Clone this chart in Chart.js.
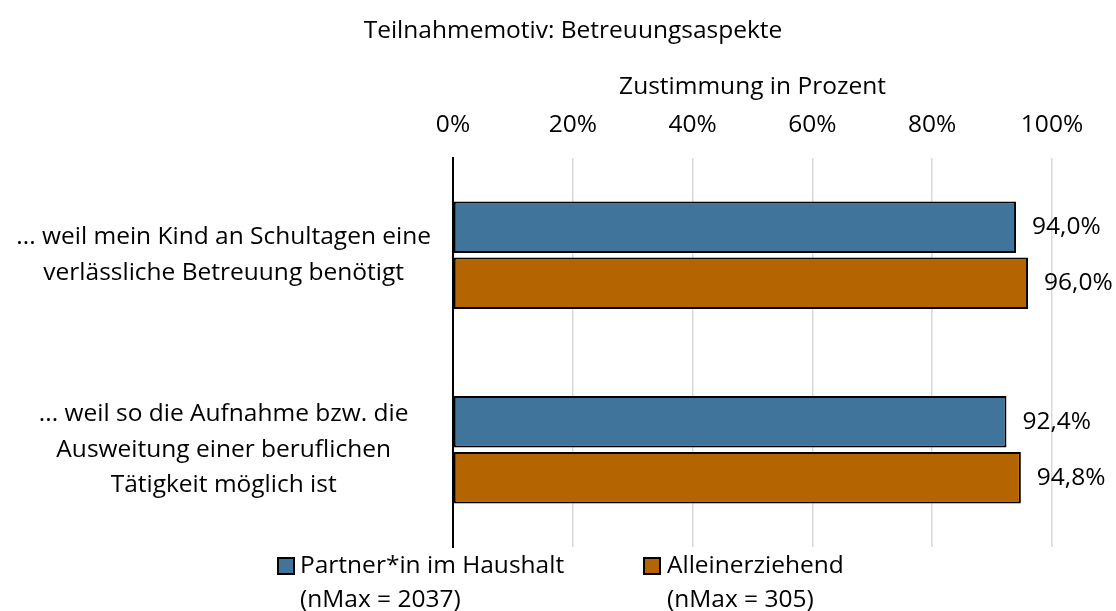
<!DOCTYPE html>
<html>
<head>
<meta charset="utf-8">
<script src="https://cdn.jsdelivr.net/npm/chart.js@4"></script>
<style>
  body { margin: 0; background: #fff; }
  canvas { display: block; }
</style>
</head>
<body>
<canvas id="chartMotiv" width="1116" height="611"></canvas>
<script>
const categories = [
    ['... weil mein Kind an Schultagen eine', 'verlässliche Betreuung benötigt'],
    ['... weil so die Aufnahme bzw. die', 'Ausweitung einer beruflichen', 'Tätigkeit möglich ist']
];
const partnerValues = [94.0, 92.4];
const alleinValues = [96.0, 94.8];
const seriesNames = [['Partner*in im Haushalt', '(nMax = 2037)'], ['Alleinerziehend', '(nMax = 305)']];
const xTicks = [0, 20, 40, 60, 80, 100];

const FONT = '"Open Sans", Lato, sans-serif';
const FSIZE = 24.5;
const colors = ['#41749a', '#b46400'];

const fmt = v => v.toFixed(1).replace('.', ',') + '%';

const extrasPlugin = {
    id: 'extras',
    afterDatasetsDraw(chart) {
        const ctx = chart.ctx;
        ctx.save();
        ctx.fillStyle = '#000';
        ctx.font = FSIZE + 'px ' + FONT;
        ctx.textBaseline = 'middle';
        // value labels
        chart.data.datasets.forEach((ds, i) => {
            chart.getDatasetMeta(i).data.forEach((bar, j) => {
                ctx.textAlign = 'left';
                ctx.fillText(fmt(ds.data[j]), bar.x + 16, bar.y);
            });
        });
        // title
        ctx.textAlign = 'center';
        ctx.fillText('Teilnahmemotiv: Betreuungsaspekte', 573, 31);
        // legend
        const boxX = [278, 644];
        const textX = [300, 667];
        seriesNames.forEach((lines, i) => {
            ctx.fillStyle = colors[i];
            ctx.fillRect(boxX[i], 558, 16, 16);
            ctx.lineWidth = 2;
            ctx.strokeStyle = '#000';
            ctx.strokeRect(boxX[i], 558, 16, 16);
            ctx.fillStyle = '#000';
            ctx.textAlign = 'left';
            lines.forEach((t, k) => ctx.fillText(t, textX[i], 566 + k * 34));
        });
        ctx.restore();
    }
};

new Chart(document.getElementById('chartMotiv'), {
    type: 'bar',
    data: {
        labels: categories,
        datasets: [{
            label: seriesNames[0].join(' '),
            data: partnerValues,
            backgroundColor: colors[0],
            borderColor: '#000',
            borderWidth: 2,
            borderSkipped: false,
            categoryPercentage: 0.575,
            barPercentage: 0.92
        }, {
            label: seriesNames[1].join(' '),
            data: alleinValues,
            backgroundColor: colors[1],
            borderColor: '#000',
            borderWidth: 2,
            borderSkipped: false,
            categoryPercentage: 0.575,
            barPercentage: 0.92
        }]
    },
    options: {
        indexAxis: 'y',
        responsive: false,
        animation: false,
        layout: { padding: { top: 60, right: 64, bottom: 64, left: 0 } },
        plugins: {
            legend: { display: false },
            tooltip: { enabled: false }
        },
        scales: {
            x: {
                position: 'top',
                min: 0,
                max: 100,
                afterBuildTicks: scale => { scale.ticks = xTicks.map(v => ({ value: v })); },
                afterFit: scale => { scale.height = 98; },
                ticks: {
                    padding: 18,
                    color: '#000',
                    font: { family: FONT, size: FSIZE },
                    callback: v => v + '%'
                },
                grid: { color: '#d9d9d9', lineWidth: 1.5, drawTicks: false },
                border: { display: false },
                title: {
                    display: true,
                    text: 'Zustimmung in Prozent',
                    color: '#000',
                    font: { family: FONT, size: FSIZE },
                    padding: { top: 12, bottom: 0 }
                }
            },
            y: {
                afterFit: scale => { scale.width = 453; },
                ticks: {
                    crossAlign: 'center',
                    padding: 22,
                    color: '#000',
                    font: { family: FONT, size: FSIZE, lineHeight: 1.45 }
                },
                grid: { display: false, drawTicks: false },
                border: { display: true, color: '#000', width: 2 }
            }
        }
    },
    plugins: [extrasPlugin]
});
</script>
</body>
</html>
